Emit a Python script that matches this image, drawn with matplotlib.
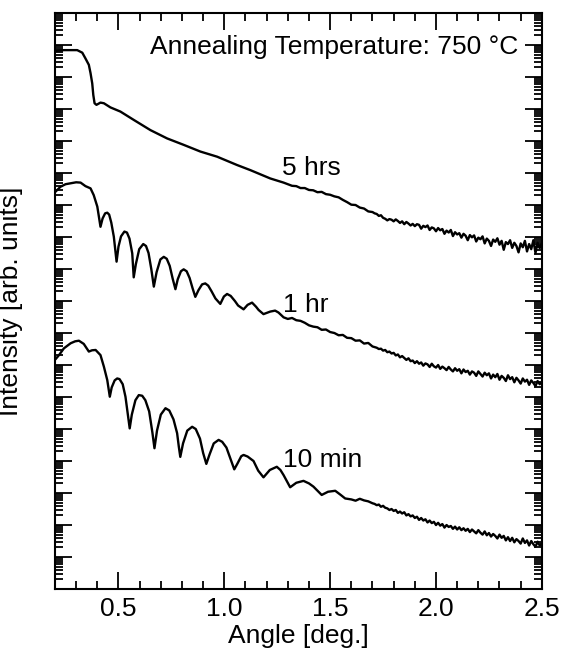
import matplotlib
matplotlib.use("Agg")
import matplotlib.pyplot as plt
from matplotlib.ticker import LogLocator, NullFormatter, MultipleLocator
import numpy as np

plt.rcParams['font.family'] = ['Liberation Sans', 'DejaVu Sans']

# 5 hrs curve: angle [deg.], log10 intensity
angle_5h = [0.21, 0.242, 0.305, 0.329, 0.344, 0.360, 0.368, 0.376, 0.381, 0.387,
            0.396, 0.415, 0.431, 0.462, 0.509, 0.572, 0.651, 0.730, 0.808, 0.887,
            0.966, 1.060, 1.123, 1.217, 1.28,
            1.30, 1.32, 1.34, 1.36, 1.38, 1.40, 1.42, 1.44, 1.46, 1.48,
            1.50, 1.52, 1.54, 1.56, 1.58, 1.60, 1.62, 1.64, 1.66, 1.68,
            1.70, 1.71, 1.72, 1.73, 1.74, 1.75, 1.76, 1.77, 1.78, 1.79,
            1.80, 1.81, 1.82, 1.83, 1.84, 1.85, 1.86, 1.87, 1.88, 1.89,
            1.90, 1.91, 1.92, 1.93, 1.94, 1.95, 1.96, 1.97, 1.98, 1.99,
            2.00, 2.01, 2.02, 2.03, 2.04, 2.05, 2.06, 2.07, 2.08, 2.09,
            2.10, 2.11, 2.12, 2.13, 2.14, 2.15, 2.16, 2.17, 2.18, 2.19,
            2.20, 2.21, 2.22, 2.23, 2.24, 2.25, 2.26, 2.27, 2.28, 2.29,
            2.30, 2.31, 2.32, 2.33, 2.34, 2.35, 2.36, 2.37, 2.38, 2.39,
            2.40, 2.41, 2.42, 2.43, 2.44, 2.45, 2.46, 2.47, 2.48, 2.49, 2.50]
logI_5h = [16.82, 16.84, 16.84, 16.76, 16.58, 16.38, 16.12, 15.80, 15.44, 15.18,
           15.13, 15.20, 15.18, 15.05, 14.92, 14.66, 14.34, 14.08, 13.88, 13.67,
           13.51, 13.25, 13.09, 12.83, 12.70,
           12.65, 12.60, 12.59, 12.53, 12.53, 12.47, 12.46, 12.40, 12.41, 12.34,
           12.32, 12.27, 12.24, 12.16, 12.09, 12.01, 12.00, 11.92, 11.89, 11.80,
           11.78, 11.74, 11.72, 11.66, 11.68, 11.60, 11.57, 11.52, 11.56, 11.54,
           11.49, 11.55, 11.50, 11.44, 11.49, 11.40, 11.47, 11.42, 11.36, 11.41,
           11.34, 11.40, 11.38, 11.26, 11.35, 11.31, 11.36, 11.22, 11.30, 11.27,
           11.18, 11.28, 11.21, 11.25, 11.10, 11.20, 11.14, 11.22, 11.03, 11.15,
           11.08, 11.12, 10.98, 11.10, 11.04, 10.90, 11.06, 10.99, 11.05, 10.86,
           10.98, 10.93, 11.02, 10.80, 10.95, 10.88, 10.72, 10.92, 10.85, 10.96,
           10.76, 10.88, 10.60, 10.84, 10.78, 10.90, 10.66, 10.82, 10.72, 10.52,
           10.80, 10.68, 10.88, 10.55, 10.78, 10.62, 10.90, 10.50, 10.82, 10.65, 10.80]

# 1 hr curve
angle_1h = [0.203, 0.226, 0.25, 0.274, 0.30, 0.321, 0.344, 0.368, 0.383, 0.400,
            0.415, 0.425, 0.437, 0.447, 0.456, 0.466, 0.478, 0.491, 0.500, 0.512,
            0.528, 0.540, 0.552, 0.565, 0.572, 0.582, 0.598, 0.617, 0.630, 0.642,
            0.655, 0.667, 0.680, 0.698, 0.714, 0.728, 0.742, 0.756, 0.769, 0.780,
            0.795, 0.808, 0.822, 0.836, 0.850, 0.863, 0.878, 0.895, 0.910, 0.924,
            0.940, 0.958, 0.981, 0.998, 1.013, 1.030, 1.050, 1.065, 1.091, 1.110,
            1.131, 1.150, 1.162, 1.185, 1.217, 1.240, 1.256,
            1.28, 1.30, 1.32, 1.34, 1.36, 1.38, 1.40, 1.42, 1.44, 1.46, 1.48,
            1.50, 1.52, 1.54, 1.56, 1.58, 1.60, 1.62, 1.64, 1.66, 1.68,
            1.70, 1.71, 1.72, 1.73, 1.74, 1.75, 1.76, 1.77, 1.78, 1.79,
            1.80, 1.81, 1.82, 1.83, 1.84, 1.85, 1.86, 1.87, 1.88, 1.89,
            1.90, 1.91, 1.92, 1.93, 1.94, 1.95, 1.96, 1.97, 1.98, 1.99,
            2.00, 2.01, 2.02, 2.03, 2.04, 2.05, 2.06, 2.07, 2.08, 2.09,
            2.10, 2.11, 2.12, 2.13, 2.14, 2.15, 2.16, 2.17, 2.18, 2.19,
            2.20, 2.21, 2.22, 2.23, 2.24, 2.25, 2.26, 2.27, 2.28, 2.29,
            2.30, 2.31, 2.32, 2.33, 2.34, 2.35, 2.36, 2.37, 2.38, 2.39,
            2.40, 2.41, 2.42, 2.43, 2.44, 2.45, 2.46, 2.47, 2.48, 2.49, 2.50]
logI_1h = [12.42, 12.57, 12.65, 12.68, 12.71, 12.70, 12.59, 12.52, 12.31, 11.95,
           11.32, 11.58, 11.74, 11.76, 11.70, 11.45, 11.01, 10.23, 10.70, 11.02,
           11.17, 11.14, 10.95, 10.49, 9.74, 10.15, 10.62, 10.78, 10.72, 10.50,
           10.00, 9.45, 9.90, 10.30, 10.38, 10.32, 10.10, 9.70, 9.37, 9.68,
           9.93, 9.99, 9.93, 9.72, 9.40, 9.13, 9.34, 9.52, 9.55, 9.48,
           9.30, 9.08, 8.91, 9.14, 9.22, 9.16, 9.00, 8.86, 8.74, 8.88,
           8.95, 8.82, 8.72, 8.59, 8.67, 8.70, 8.64,
           8.49, 8.44, 8.47, 8.40, 8.38, 8.32, 8.24, 8.20, 8.18, 8.10, 8.11,
           8.03, 8.00, 7.93, 7.94, 7.85, 7.84, 7.76, 7.77, 7.67, 7.69,
           7.58, 7.56, 7.54, 7.50, 7.51, 7.45, 7.47, 7.40, 7.42, 7.36,
           7.38, 7.30, 7.33, 7.24, 7.28, 7.22, 7.16, 7.21, 7.12, 7.14,
           7.06, 7.12, 7.04, 7.08, 6.98, 7.05, 7.02, 6.94, 7.04, 6.96,
           6.92, 7.00, 6.88, 6.95, 6.90, 6.84, 6.94, 6.86, 6.80, 6.90,
           6.82, 6.87, 6.74, 6.86, 6.78, 6.82, 6.70, 6.80, 6.76, 6.66,
           6.80, 6.72, 6.64, 6.76, 6.68, 6.74, 6.58, 6.70, 6.62, 6.72,
           6.54, 6.66, 6.60, 6.50, 6.68, 6.56, 6.62, 6.46, 6.60, 6.52,
           6.42, 6.58, 6.48, 6.54, 6.38, 6.52, 6.44, 6.34, 6.50, 6.40, 6.46]

# 10 min curve
angle_10m = [0.205, 0.219, 0.242, 0.274, 0.295, 0.313, 0.336, 0.360, 0.375, 0.392,
             0.415, 0.431, 0.447, 0.459, 0.468, 0.482, 0.494, 0.505, 0.520, 0.533,
             0.545, 0.553, 0.563, 0.580, 0.596, 0.612, 0.627, 0.645, 0.660, 0.670,
             0.682, 0.700, 0.722, 0.740, 0.760, 0.777, 0.785, 0.792, 0.805, 0.825,
             0.848, 0.865, 0.885, 0.900, 0.915, 0.930, 0.950, 0.973, 0.990, 1.010,
             1.030, 1.047, 1.062, 1.080, 1.091, 1.110, 1.138, 1.160, 1.185, 1.215,
             1.248, 1.265, 1.280, 1.311, 1.340, 1.374, 1.400, 1.421, 1.460, 1.490,
             1.524, 1.550, 1.571,
             1.60, 1.62, 1.64, 1.66, 1.68,
             1.70, 1.71, 1.72, 1.73, 1.74, 1.75, 1.76, 1.77, 1.78, 1.79,
             1.80, 1.81, 1.82, 1.83, 1.84, 1.85, 1.86, 1.87, 1.88, 1.89,
             1.90, 1.91, 1.92, 1.93, 1.94, 1.95, 1.96, 1.97, 1.98, 1.99,
             2.00, 2.01, 2.02, 2.03, 2.04, 2.05, 2.06, 2.07, 2.08, 2.09,
             2.10, 2.11, 2.12, 2.13, 2.14, 2.15, 2.16, 2.17, 2.18, 2.19,
             2.20, 2.21, 2.22, 2.23, 2.24, 2.25, 2.26, 2.27, 2.28, 2.29,
             2.30, 2.31, 2.32, 2.33, 2.34, 2.35, 2.36, 2.37, 2.38, 2.39,
             2.40, 2.41, 2.42, 2.43, 2.44, 2.45, 2.46, 2.47, 2.48, 2.49, 2.50]
logI_10m = [7.20, 7.31, 7.52, 7.68, 7.74, 7.76, 7.66, 7.42, 7.46, 7.47,
            7.31, 6.95, 6.53, 6.01, 6.30, 6.52, 6.58, 6.56, 6.40, 6.01,
            5.40, 5.02, 5.45, 5.90, 6.06, 6.04, 5.90, 5.55, 4.90, 4.40,
            4.95, 5.45, 5.65, 5.58, 5.30, 4.87, 4.45, 4.13, 4.55, 4.95,
            5.07, 5.00, 4.70, 4.25, 3.91, 4.20, 4.55, 4.66, 4.60, 4.42,
            4.05, 3.74, 3.92, 4.15, 4.19, 4.14, 4.00, 3.70, 3.49, 3.72,
            3.82, 3.72, 3.56, 3.18, 3.32, 3.38, 3.30, 3.20, 2.94, 3.04,
            3.07, 2.94, 2.83,
            2.80, 2.76, 2.82, 2.77, 2.74,
            2.68, 2.66, 2.62, 2.64, 2.57, 2.60, 2.54, 2.52, 2.47, 2.50,
            2.44, 2.47, 2.38, 2.42, 2.36, 2.40, 2.30, 2.34, 2.27, 2.30,
            2.22, 2.26, 2.16, 2.22, 2.14, 2.18, 2.08, 2.14, 2.06, 2.10,
            2.00, 2.07, 1.98, 2.03, 1.92, 2.00, 1.94, 1.97, 1.88, 1.95,
            1.86, 1.93, 1.84, 1.90, 1.82, 1.88, 1.78, 1.86, 1.80, 1.74,
            1.84, 1.76, 1.70, 1.80, 1.68, 1.75, 1.64, 1.72, 1.66, 1.58,
            1.70, 1.60, 1.66, 1.52, 1.62, 1.50, 1.60, 1.46, 1.56, 1.50,
            1.42, 1.58, 1.44, 1.52, 1.36, 1.50, 1.40, 1.32, 1.48, 1.36, 1.44]

curve_labels = ["5 hrs", "1 hr", "10 min"]
label_angle = [1.274, 1.278, 1.278]
label_logI = [12.94, 8.66, 3.81]

fig = plt.figure(figsize=(5.65, 6.5), dpi=100)
ax = fig.add_axes([0.0973, 0.0938, 0.8617, 0.8862])

for a, v in [(angle_5h, logI_5h), (angle_1h, logI_1h), (angle_10m, logI_10m)]:
    ax.plot(a, 10.0 ** np.array(v), color='black', lw=1.7)

ax.set_yscale('log')
ax.set_xlim(0.2, 2.5)
ax.set_ylim(1, 1e18)

ax.xaxis.set_major_locator(MultipleLocator(0.5))
ax.xaxis.set_minor_locator(MultipleLocator(0.1))
ax.yaxis.set_major_locator(LogLocator(base=10, numticks=100))
ax.yaxis.set_minor_locator(LogLocator(base=10, subs=np.arange(2, 10), numticks=400))
ax.yaxis.set_major_formatter(NullFormatter())
ax.yaxis.set_minor_formatter(NullFormatter())
ax.set_xticks([0.5, 1.0, 1.5, 2.0, 2.5])
ax.set_xticklabels(["0.5", "1.0", "1.5", "2.0", "2.5"])

ax.tick_params(which='both', direction='in', top=True, right=True, width=1.3)
ax.tick_params(which='major', length=12, labelsize=19, pad=6)
ax.tick_params(which='minor', length=6)
for s in ax.spines.values():
    s.set_linewidth(1.5)

ax.set_xlabel("Angle [deg.]", fontsize=19, labelpad=2)
ax.set_ylabel("Intensity [arb. units]", fontsize=19)
ax.yaxis.set_label_coords(-0.066, 0.5)

ax.text(0.951, 0.929, "Annealing Temperature: 750 °C", transform=ax.transAxes,
        ha='right', va='baseline', fontsize=19)
for lab, xa, ya in zip(curve_labels, label_angle, label_logI):
    ax.text(xa, 10.0 ** ya, lab, ha='left', va='baseline', fontsize=19)

fig.savefig("out.png", dpi=100)
